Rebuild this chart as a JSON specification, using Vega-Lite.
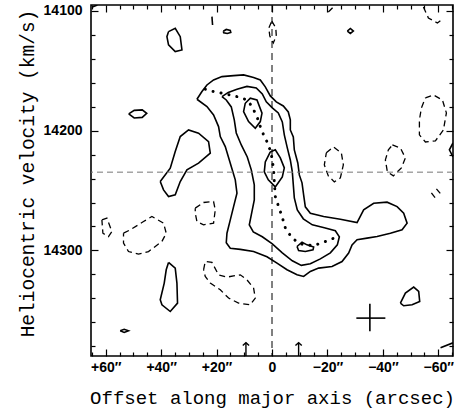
{
  "$schema": "https://vega.github.io/schema/vega-lite/v6.json",
  "width": 362,
  "height": 351,
  "autosize": "none",
  "padding": {"left": 91, "top": 5, "right": 1, "bottom": 59},
  "background": "white",
  "config": {
    "view": {"stroke": "black", "strokeWidth": 1.6},
    "axis": {"domain": false, "grid": false, "tickColor": "black", "tickWidth": 1.2, "labelColor": "black", "titleColor": "black"}
  },
  "datasets": {
    "cont": [
      {"c":"A","o":1,"x":27.08,"v":14173.9,"t":"s"},{"c":"A","o":2,"x":25.27,"v":14167.5,"t":"s"},{"c":"A","o":3,"x":23.47,"v":14162.0,"t":"s"},{"c":"A","o":4,"x":21.08,"v":14157.8,"t":"s"},{"c":"A","o":5,"x":18.05,"v":14155.0,"t":"s"},{"c":"A","o":6,"x":13.86,"v":14154.2,"t":"s"},{"c":"A","o":7,"x":10.25,"v":14153.6,"t":"s"},{"c":"A","o":8,"x":6.64,"v":14155.7,"t":"s"},{"c":"A","o":9,"x":4.22,"v":14157.8,"t":"s"},{"c":"A","o":10,"x":2.42,"v":14163.6,"t":"s"},{"c":"A","o":11,"x":0.61,"v":14171.1,"t":"s"},{"c":"A","o":12,"x":-1.55,"v":14176.1,"t":"s"},{"c":"A","o":13,"x":-4.08,"v":14179.5,"t":"s"},{"c":"A","o":14,"x":-5.88,"v":14184.5,"t":"s"},{"c":"A","o":15,"x":-6.61,"v":14191.1,"t":"s"},{"c":"A","o":16,"x":-6.61,"v":14199.5,"t":"s"},{"c":"A","o":17,"x":-7.69,"v":14205.3,"t":"s"},{"c":"A","o":18,"x":-8.05,"v":14216.1,"t":"s"},{"c":"A","o":19,"x":-9.31,"v":14227.0,"t":"s"},{"c":"A","o":20,"x":-9.86,"v":14237.0,"t":"s"},{"c":"A","o":21,"x":-10.83,"v":14243.6,"t":"s"},{"c":"A","o":22,"x":-11.41,"v":14253.6,"t":"s"},{"c":"A","o":23,"x":-12.02,"v":14263.6,"t":"s"},{"c":"A","o":24,"x":-13.83,"v":14268.9,"t":"s"},{"c":"A","o":25,"x":-18.63,"v":14271.7,"t":"s"},{"c":"A","o":26,"x":-24.66,"v":14273.9,"t":"s"},{"c":"A","o":27,"x":-30.69,"v":14276.7,"t":"s"},{"c":"A","o":28,"x":-33.07,"v":14266.1,"t":"s"},{"c":"A","o":29,"x":-36.68,"v":14260.6,"t":"s"},{"c":"A","o":30,"x":-41.52,"v":14259.7,"t":"s"},{"c":"A","o":31,"x":-45.13,"v":14263.4,"t":"s"},{"c":"A","o":32,"x":-47.51,"v":14268.9,"t":"s"},{"c":"A","o":33,"x":-48.74,"v":14277.2,"t":"s"},{"c":"A","o":34,"x":-46.93,"v":14282.8,"t":"s"},{"c":"A","o":35,"x":-42.71,"v":14285.6,"t":"s"},{"c":"A","o":36,"x":-37.91,"v":14288.4,"t":"s"},{"c":"A","o":37,"x":-34.30,"v":14289.7,"t":"s"},{"c":"A","o":38,"x":-30.69,"v":14291.1,"t":"s"},{"c":"A","o":39,"x":-28.88,"v":14295.3,"t":"s"},{"c":"A","o":40,"x":-27.65,"v":14302.2,"t":"s"},{"c":"A","o":41,"x":-25.27,"v":14309.2,"t":"s"},{"c":"A","o":42,"x":-21.66,"v":14313.4,"t":"s"},{"c":"A","o":43,"x":-16.82,"v":14314.7,"t":"s"},{"c":"A","o":44,"x":-13.83,"v":14317.5,"t":"s"},{"c":"A","o":45,"x":-11.41,"v":14321.7,"t":"s"},{"c":"A","o":46,"x":-9.03,"v":14320.3,"t":"s"},{"c":"A","o":47,"x":-5.42,"v":14316.1,"t":"s"},{"c":"A","o":48,"x":-1.81,"v":14310.6,"t":"s"},{"c":"A","o":49,"x":1.81,"v":14305.3,"t":"s"},{"c":"A","o":50,"x":6.64,"v":14300.9,"t":"s"},{"c":"A","o":51,"x":11.44,"v":14299.1,"t":"s"},{"c":"A","o":52,"x":15.05,"v":14298.1,"t":"s"},{"c":"A","o":53,"x":16.50,"v":14293.6,"t":"s"},{"c":"A","o":54,"x":16.25,"v":14285.6,"t":"s"},{"c":"A","o":55,"x":15.05,"v":14274.5,"t":"s"},{"c":"A","o":56,"x":13.86,"v":14263.4,"t":"s"},{"c":"A","o":57,"x":12.64,"v":14252.2,"t":"s"},{"c":"A","o":58,"x":13.25,"v":14241.1,"t":"s"},{"c":"A","o":59,"x":15.05,"v":14227.2,"t":"s"},{"c":"A","o":60,"x":16.86,"v":14213.4,"t":"s"},{"c":"A","o":61,"x":18.66,"v":14205.0,"t":"s"},{"c":"A","o":62,"x":19.28,"v":14196.7,"t":"s"},{"c":"A","o":63,"x":21.08,"v":14187.0,"t":"s"},{"c":"A","o":64,"x":23.47,"v":14180.0,"t":"s"},{"c":"A","o":65,"x":27.08,"v":14173.9,"t":"s"},

      {"c":"B","o":1,"x":18.05,"v":14171.7,"t":"s"},{"c":"B","o":2,"x":15.78,"v":14168.2,"t":"s"},{"c":"B","o":3,"x":12.64,"v":14165.5,"t":"s"},{"c":"B","o":4,"x":9.03,"v":14163.2,"t":"s"},{"c":"B","o":5,"x":5.67,"v":14164.5,"t":"s"},{"c":"B","o":6,"x":3.50,"v":14169.5,"t":"s"},{"c":"B","o":7,"x":2.06,"v":14176.1,"t":"s"},{"c":"B","o":8,"x":-0.11,"v":14181.1,"t":"s"},{"c":"B","o":9,"x":-2.27,"v":14185.3,"t":"s"},{"c":"B","o":10,"x":-3.72,"v":14192.8,"t":"s"},{"c":"B","o":11,"x":-4.44,"v":14203.6,"t":"s"},{"c":"B","o":12,"x":-5.52,"v":14214.5,"t":"s"},{"c":"B","o":13,"x":-6.61,"v":14224.5,"t":"s"},{"c":"B","o":14,"x":-7.33,"v":14234.5,"t":"s"},{"c":"B","o":15,"x":-7.69,"v":14245.3,"t":"s"},{"c":"B","o":16,"x":-8.05,"v":14256.1,"t":"s"},{"c":"B","o":17,"x":-9.13,"v":14266.1,"t":"s"},{"c":"B","o":18,"x":-11.30,"v":14273.6,"t":"s"},{"c":"B","o":19,"x":-14.55,"v":14278.6,"t":"s"},{"c":"B","o":20,"x":-18.88,"v":14281.1,"t":"s"},{"c":"B","o":21,"x":-22.85,"v":14283.6,"t":"s"},{"c":"B","o":22,"x":-24.30,"v":14288.6,"t":"s"},{"c":"B","o":23,"x":-23.57,"v":14295.3,"t":"s"},{"c":"B","o":24,"x":-21.05,"v":14302.0,"t":"s"},{"c":"B","o":25,"x":-17.44,"v":14307.0,"t":"s"},{"c":"B","o":26,"x":-13.83,"v":14311.1,"t":"s"},{"c":"B","o":27,"x":-10.58,"v":14312.4,"t":"s"},{"c":"B","o":28,"x":-7.33,"v":14308.6,"t":"s"},{"c":"B","o":29,"x":-3.72,"v":14302.0,"t":"s"},{"c":"B","o":30,"x":-0.11,"v":14294.5,"t":"s"},{"c":"B","o":31,"x":3.50,"v":14288.6,"t":"s"},{"c":"B","o":32,"x":6.75,"v":14284.5,"t":"s"},{"c":"B","o":33,"x":8.19,"v":14278.6,"t":"s"},{"c":"B","o":34,"x":7.47,"v":14270.3,"t":"s"},{"c":"B","o":35,"x":6.39,"v":14257.8,"t":"s"},{"c":"B","o":36,"x":6.39,"v":14245.3,"t":"s"},{"c":"B","o":37,"x":7.47,"v":14232.8,"t":"s"},{"c":"B","o":38,"x":8.92,"v":14222.0,"t":"s"},{"c":"B","o":39,"x":11.08,"v":14212.0,"t":"s"},{"c":"B","o":40,"x":12.89,"v":14202.0,"t":"s"},{"c":"B","o":41,"x":13.61,"v":14191.1,"t":"s"},{"c":"B","o":42,"x":14.69,"v":14180.3,"t":"s"},{"c":"B","o":43,"x":16.50,"v":14174.5,"t":"s"},{"c":"B","o":44,"x":18.05,"v":14171.7,"t":"s"},

      {"c":"C1","o":1,"x":9.64,"v":14177.2,"t":"s"},{"c":"C1","o":2,"x":7.83,"v":14173.0,"t":"s"},{"c":"C1","o":3,"x":5.42,"v":14174.5,"t":"s"},{"c":"C1","o":4,"x":3.61,"v":14185.5,"t":"s"},{"c":"C1","o":5,"x":4.22,"v":14192.5,"t":"s"},{"c":"C1","o":6,"x":6.03,"v":14198.1,"t":"s"},{"c":"C1","o":7,"x":8.45,"v":14192.5,"t":"s"},{"c":"C1","o":8,"x":10.25,"v":14184.2,"t":"s"},{"c":"C1","o":9,"x":9.64,"v":14177.2,"t":"s"},

      {"c":"C2","o":1,"x":0.61,"v":14217.8,"t":"s"},{"c":"C2","o":2,"x":-1.19,"v":14216.1,"t":"s"},{"c":"C2","o":3,"x":-3.00,"v":14222.8,"t":"s"},{"c":"C2","o":4,"x":-4.44,"v":14231.1,"t":"s"},{"c":"C2","o":5,"x":-3.72,"v":14238.6,"t":"s"},{"c":"C2","o":6,"x":-1.19,"v":14247.0,"t":"s"},{"c":"C2","o":7,"x":1.34,"v":14241.1,"t":"s"},{"c":"C2","o":8,"x":2.78,"v":14234.5,"t":"s"},{"c":"C2","o":9,"x":2.42,"v":14226.1,"t":"s"},{"c":"C2","o":10,"x":0.61,"v":14217.8,"t":"s"},

      {"c":"C3","o":1,"x":-9.03,"v":14296.7,"t":"s"},{"c":"C3","o":2,"x":-10.83,"v":14293.1,"t":"s"},{"c":"C3","o":3,"x":-12.64,"v":14295.3,"t":"s"},{"c":"C3","o":4,"x":-15.02,"v":14297.2,"t":"s"},{"c":"C3","o":5,"x":-14.80,"v":14299.5,"t":"s"},{"c":"C3","o":6,"x":-12.02,"v":14300.9,"t":"s"},{"c":"C3","o":7,"x":-9.60,"v":14300.1,"t":"s"},{"c":"C3","o":8,"x":-9.03,"v":14296.7,"t":"s"},

      {"c":"S1","o":1,"x":37.33,"v":14117.5,"t":"s"},{"c":"S1","o":2,"x":34.91,"v":14114.7,"t":"s"},{"c":"S1","o":3,"x":33.10,"v":14121.7,"t":"s"},{"c":"S1","o":4,"x":32.49,"v":14132.8,"t":"s"},{"c":"S1","o":5,"x":34.91,"v":14134.2,"t":"s"},{"c":"S1","o":6,"x":37.33,"v":14128.6,"t":"s"},{"c":"S1","o":7,"x":37.91,"v":14121.7,"t":"s"},{"c":"S1","o":8,"x":37.33,"v":14117.5,"t":"s"},

      {"c":"S2","o":1,"x":17.58,"v":14117.2,"t":"s"},{"c":"S2","o":2,"x":16.50,"v":14115.7,"t":"s"},{"c":"S2","o":3,"x":15.05,"v":14116.5,"t":"s"},{"c":"S2","o":4,"x":14.87,"v":14118.2,"t":"s"},{"c":"S2","o":5,"x":16.14,"v":14119.0,"t":"s"},{"c":"S2","o":6,"x":17.40,"v":14118.5,"t":"s"},{"c":"S2","o":7,"x":17.58,"v":14117.2,"t":"s"},

      {"c":"S3","o":1,"x":21.66,"v":14105.0,"t":"s"},{"c":"S3","o":2,"x":21.55,"v":14108.6,"t":"s"},{"c":"S3","o":3,"x":21.44,"v":14112.0,"t":"s"},

      {"c":"S4","o":1,"x":-27.18,"v":14117.0,"t":"s"},{"c":"S4","o":2,"x":-28.27,"v":14114.9,"t":"s"},{"c":"S4","o":3,"x":-29.35,"v":14117.0,"t":"s"},{"c":"S4","o":4,"x":-28.27,"v":14119.05,"t":"s"},{"c":"S4","o":5,"x":-27.18,"v":14117.0,"t":"s"},

      {"c":"S5","o":1,"x":51.70,"v":14186.1,"t":"s"},{"c":"S5","o":2,"x":49.71,"v":14183.2,"t":"s"},{"c":"S5","o":3,"x":46.82,"v":14182.8,"t":"s"},{"c":"S5","o":4,"x":45.20,"v":14185.7,"t":"s"},{"c":"S5","o":5,"x":46.82,"v":14189.0,"t":"s"},{"c":"S5","o":6,"x":49.71,"v":14189.5,"t":"s"},{"c":"S5","o":7,"x":51.70,"v":14186.1,"t":"s"},

      {"c":"S6","o":1,"x":40.32,"v":14242.5,"t":"s"},{"c":"S6","o":2,"x":36.71,"v":14231.4,"t":"s"},{"c":"S6","o":3,"x":34.91,"v":14217.5,"t":"s"},{"c":"S6","o":4,"x":33.10,"v":14205.0,"t":"s"},{"c":"S6","o":5,"x":30.11,"v":14199.5,"t":"s"},{"c":"S6","o":6,"x":26.50,"v":14202.2,"t":"s"},{"c":"S6","o":7,"x":22.89,"v":14209.2,"t":"s"},{"c":"S6","o":8,"x":22.27,"v":14218.9,"t":"s"},{"c":"S6","o":9,"x":26.50,"v":14227.2,"t":"s"},{"c":"S6","o":10,"x":30.69,"v":14232.8,"t":"s"},{"c":"S6","o":11,"x":33.10,"v":14242.5,"t":"s"},{"c":"S6","o":12,"x":34.91,"v":14253.6,"t":"s"},{"c":"S6","o":13,"x":37.33,"v":14255.0,"t":"s"},{"c":"S6","o":14,"x":39.13,"v":14249.5,"t":"s"},{"c":"S6","o":15,"x":40.32,"v":14242.5,"t":"s"},

      {"c":"S7","o":1,"x":37.33,"v":14310.0,"t":"s"},{"c":"S7","o":2,"x":34.91,"v":14314.7,"t":"s"},{"c":"S7","o":3,"x":34.30,"v":14327.2,"t":"s"},{"c":"S7","o":4,"x":34.08,"v":14343.9,"t":"s"},{"c":"S7","o":5,"x":36.71,"v":14350.9,"t":"s"},{"c":"S7","o":6,"x":39.71,"v":14345.3,"t":"s"},{"c":"S7","o":7,"x":40.32,"v":14341.1,"t":"s"},{"c":"S7","o":8,"x":38.88,"v":14327.2,"t":"s"},{"c":"S7","o":9,"x":38.16,"v":14316.1,"t":"s"},{"c":"S7","o":10,"x":37.33,"v":14310.0,"t":"s"},

      {"c":"S8","o":1,"x":54.77,"v":14367.0,"t":"s"},{"c":"S8","o":2,"x":53.32,"v":14365.7,"t":"s"},{"c":"S8","o":3,"x":51.77,"v":14367.0,"t":"s"},{"c":"S8","o":4,"x":53.32,"v":14368.4,"t":"s"},{"c":"S8","o":5,"x":54.77,"v":14367.0,"t":"s"},

      {"c":"S9","o":1,"x":-46.32,"v":14343.9,"t":"s"},{"c":"S9","o":2,"x":-48.12,"v":14335.5,"t":"s"},{"c":"S9","o":3,"x":-51.12,"v":14330.5,"t":"s"},{"c":"S9","o":4,"x":-52.92,"v":14334.2,"t":"s"},{"c":"S9","o":5,"x":-53.29,"v":14342.5,"t":"s"},{"c":"S9","o":6,"x":-50.54,"v":14345.3,"t":"s"},{"c":"S9","o":7,"x":-47.51,"v":14346.1,"t":"s"},{"c":"S9","o":8,"x":-46.32,"v":14343.9,"t":"s"},

      {"c":"S11","o":1,"x":-65.3,"v":14210.3,"t":"s"},{"c":"S11","o":2,"x":-64.0,"v":14216.1,"t":"s"},{"c":"S11","o":3,"x":-65.3,"v":14222.0,"t":"s"},
      {"c":"S12","o":1,"x":-60.8,"v":14381.1,"t":"s"},{"c":"S12","o":2,"x":-65.3,"v":14377.0,"t":"s"},
      {"c":"S13","o":1,"x":64.8,"v":14097.0,"t":"s"},{"c":"S13","o":2,"x":63.0,"v":14095.3,"t":"s"},

      {"c":"D1","o":1,"x":0.07,"v":14108.6,"t":"d"},{"c":"D1","o":2,"x":-1.37,"v":14114.5,"t":"d"},{"c":"D1","o":3,"x":-1.55,"v":14121.1,"t":"d"},{"c":"D1","o":4,"x":-0.47,"v":14127.0,"t":"d"},{"c":"D1","o":5,"x":0.79,"v":14121.1,"t":"d"},{"c":"D1","o":6,"x":1.16,"v":14114.5,"t":"d"},{"c":"D1","o":7,"x":0.07,"v":14108.6,"t":"d"},

      {"c":"D2","o":1,"x":-20.32,"v":14101.1,"t":"d"},{"c":"D2","o":2,"x":-22.13,"v":14097.0,"t":"d"},

      {"c":"D3","o":1,"x":-55.34,"v":14172.8,"t":"d"},{"c":"D3","o":2,"x":-58.23,"v":14170.3,"t":"d"},{"c":"D3","o":3,"x":-61.48,"v":14174.5,"t":"d"},{"c":"D3","o":4,"x":-62.92,"v":14185.3,"t":"d"},{"c":"D3","o":5,"x":-61.84,"v":14199.5,"t":"d"},{"c":"D3","o":6,"x":-58.95,"v":14208.6,"t":"d"},{"c":"D3","o":7,"x":-55.34,"v":14209.5,"t":"d"},{"c":"D3","o":8,"x":-53.18,"v":14203.6,"t":"d"},{"c":"D3","o":9,"x":-53.18,"v":14191.1,"t":"d"},{"c":"D3","o":10,"x":-53.90,"v":14181.1,"t":"d"},{"c":"D3","o":11,"x":-55.34,"v":14172.8,"t":"d"},

      {"c":"D4","o":1,"x":-43.43,"v":14212.0,"t":"d"},{"c":"D4","o":2,"x":-46.32,"v":14214.5,"t":"d"},{"c":"D4","o":3,"x":-48.12,"v":14222.8,"t":"d"},{"c":"D4","o":4,"x":-46.68,"v":14231.1,"t":"d"},{"c":"D4","o":5,"x":-43.79,"v":14237.8,"t":"d"},{"c":"D4","o":6,"x":-41.62,"v":14234.5,"t":"d"},{"c":"D4","o":7,"x":-40.90,"v":14224.5,"t":"d"},{"c":"D4","o":8,"x":-41.99,"v":14216.1,"t":"d"},{"c":"D4","o":9,"x":-43.43,"v":14212.0,"t":"d"},

      {"c":"D5","o":1,"x":-19.60,"v":14218.6,"t":"d"},{"c":"D5","o":2,"x":-22.13,"v":14213.6,"t":"d"},{"c":"D5","o":3,"x":-25.02,"v":14218.6,"t":"d"},{"c":"D5","o":4,"x":-25.74,"v":14228.6,"t":"d"},{"c":"D5","o":5,"x":-24.66,"v":14239.5,"t":"d"},{"c":"D5","o":6,"x":-22.49,"v":14242.8,"t":"d"},{"c":"D5","o":7,"x":-20.32,"v":14237.8,"t":"d"},{"c":"D5","o":8,"x":-18.88,"v":14228.6,"t":"d"},{"c":"D5","o":9,"x":-19.60,"v":14218.6,"t":"d"},

      {"c":"D6a","o":1,"x":-57.51,"v":14252.0,"t":"d"},{"c":"D6a","o":2,"x":-59.67,"v":14258.6,"t":"d"},
      {"c":"D6b","o":1,"x":-59.31,"v":14248.6,"t":"d"},{"c":"D6b","o":2,"x":-61.48,"v":14254.5,"t":"d"},

      {"c":"D7","o":1,"x":27.69,"v":14264.7,"t":"d"},{"c":"D7","o":2,"x":24.69,"v":14260.0,"t":"d"},{"c":"D7","o":3,"x":21.08,"v":14259.2,"t":"d"},{"c":"D7","o":4,"x":20.47,"v":14266.1,"t":"d"},{"c":"D7","o":5,"x":21.08,"v":14277.2,"t":"d"},{"c":"D7","o":6,"x":24.69,"v":14278.6,"t":"d"},{"c":"D7","o":7,"x":27.08,"v":14275.9,"t":"d"},{"c":"D7","o":8,"x":27.69,"v":14268.9,"t":"d"},{"c":"D7","o":9,"x":27.69,"v":14264.7,"t":"d"},

      {"c":"D8","o":1,"x":53.57,"v":14285.6,"t":"d"},{"c":"D8","o":2,"x":51.16,"v":14282.8,"t":"d"},{"c":"D8","o":3,"x":46.35,"v":14275.9,"t":"d"},{"c":"D8","o":4,"x":43.32,"v":14271.7,"t":"d"},{"c":"D8","o":5,"x":39.13,"v":14277.2,"t":"d"},{"c":"D8","o":6,"x":38.16,"v":14285.6,"t":"d"},{"c":"D8","o":7,"x":39.71,"v":14292.5,"t":"d"},{"c":"D8","o":8,"x":44.55,"v":14300.9,"t":"d"},{"c":"D8","o":9,"x":48.16,"v":14303.0,"t":"d"},{"c":"D8","o":10,"x":51.77,"v":14300.9,"t":"d"},{"c":"D8","o":11,"x":53.57,"v":14293.9,"t":"d"},{"c":"D8","o":12,"x":53.57,"v":14285.6,"t":"d"},

      {"c":"D9","o":1,"x":61.37,"v":14274.5,"t":"d"},{"c":"D9","o":2,"x":59.57,"v":14273.05,"t":"d"},{"c":"D9","o":3,"x":57.76,"v":14284.2,"t":"d"},{"c":"D9","o":4,"x":58.99,"v":14288.4,"t":"d"},{"c":"D9","o":5,"x":61.01,"v":14285.6,"t":"d"},{"c":"D9","o":6,"x":61.37,"v":14274.5,"t":"d"},

      {"c":"D10","o":1,"x":24.69,"v":14316.1,"t":"d"},{"c":"D10","o":2,"x":24.08,"v":14309.2,"t":"d"},{"c":"D10","o":3,"x":21.66,"v":14310.0,"t":"d"},{"c":"D10","o":4,"x":19.28,"v":14320.3,"t":"d"},{"c":"D10","o":5,"x":16.25,"v":14322.2,"t":"d"},{"c":"D10","o":6,"x":11.44,"v":14320.3,"t":"d"},{"c":"D10","o":7,"x":9.03,"v":14324.5,"t":"d"},{"c":"D10","o":8,"x":6.64,"v":14331.4,"t":"d"},{"c":"D10","o":9,"x":6.03,"v":14339.7,"t":"d"},{"c":"D10","o":10,"x":7.83,"v":14345.3,"t":"d"},{"c":"D10","o":11,"x":12.06,"v":14343.9,"t":"d"},{"c":"D10","o":12,"x":15.67,"v":14339.7,"t":"d"},{"c":"D10","o":13,"x":18.66,"v":14332.8,"t":"d"},{"c":"D10","o":14,"x":22.27,"v":14327.2,"t":"d"},{"c":"D10","o":15,"x":24.08,"v":14321.7,"t":"d"},{"c":"D10","o":16,"x":24.69,"v":14316.1,"t":"d"},

      {"c":"D11","o":1,"x":-54.62,"v":14097.0,"t":"d"},{"c":"D11","o":2,"x":-56.43,"v":14106.1,"t":"d"},{"c":"D11","o":3,"x":-59.68,"v":14110.3,"t":"d"},{"c":"D11","o":4,"x":-61.12,"v":14107.8,"t":"d"},

      {"c":"P","o":1,"x":24.08,"v":14165.5,"t":"p"},{"c":"P","o":2,"x":21.08,"v":14167.5,"t":"p"},{"c":"P","o":3,"x":16.25,"v":14169.7,"t":"p"},{"c":"P","o":4,"x":12.64,"v":14171.7,"t":"p"},{"c":"P","o":5,"x":8.92,"v":14174.5,"t":"p"},{"c":"P","o":6,"x":7.22,"v":14180.0,"t":"p"},{"c":"P","o":7,"x":5.42,"v":14188.4,"t":"p"},{"c":"P","o":8,"x":4.22,"v":14196.7,"t":"p"},{"c":"P","o":9,"x":3.03,"v":14203.6,"t":"p"},{"c":"P","o":10,"x":1.23,"v":14212.0,"t":"p"},{"c":"P","o":11,"x":0.0,"v":14222.8,"t":"p"},{"c":"P","o":12,"x":-0.58,"v":14232.8,"t":"p"},{"c":"P","o":13,"x":-0.83,"v":14242.8,"t":"p"},{"c":"P","o":14,"x":-1.19,"v":14255.0,"t":"p"},{"c":"P","o":15,"x":-2.38,"v":14263.4,"t":"p"},{"c":"P","o":16,"x":-3.61,"v":14271.7,"t":"p"},{"c":"P","o":17,"x":-4.80,"v":14281.1,"t":"p"},{"c":"P","o":18,"x":-7.22,"v":14289.7,"t":"p"},{"c":"P","o":19,"x":-10.22,"v":14294.5,"t":"p"},{"c":"P","o":20,"x":-15.02,"v":14296.1,"t":"p"},{"c":"P","o":21,"x":-18.05,"v":14293.4,"t":"p"},{"c":"P","o":22,"x":-20.43,"v":14291.7,"t":"p"},{"c":"P","o":23,"x":-23.47,"v":14288.4,"t":"p"}
    ],
    "arrows": [{"x": 9.4, "v1": 14376.9, "v2": 14388}, {"x": -9.6, "v1": 14376.9, "v2": 14388}],
    "cross": [{"x": -35.31, "x1": -30.43, "x2": -40.9, "v": 14356.4, "v1": 14344.5, "v2": 14367.4}]
  },
  "resolve": {"axis": {"x": "independent", "y": "independent"}},
  "layer": [
    {
      "data": {"name": "cont"},
      "transform": [{"filter": "datum.t === 's'"}],
      "mark": {"type": "line", "color": "black", "strokeWidth": 1.6, "clip": true, "interpolate": "linear"},
      "encoding": {
        "x": {"field": "x", "type": "quantitative", "scale": {"domain": [-65.3, 65.3], "reverse": true, "nice": false, "zero": false},
          "axis": {"orient": "bottom", "values": [-65,-60,-55,-50,-45,-40,-35,-30,-25,-20,-15,-10,-5,0,5,10,15,20,25,30,35,40,45,50,55,60,65],
            "tickSize": {"condition": {"test": "datum.value % 20 === 0", "value": -7}, "value": -4},
            "labelExpr": "datum.value % 20 === 0 ? (datum.value === 0 ? '0' : (datum.value > 0 ? '+' + datum.value : '\u2212' + (-datum.value)) + '\u2033') : ''",
            "labelPadding": 11, "labelFont": "Liberation Sans", "labelFontWeight": "bold", "labelFontSize": 14, "labelFlush": false,
            "title": "Offset along major axis (arcsec)", "titleFont": "Liberation Mono", "titleFontSize": 19, "titleFontWeight": "normal",
            "titleY": 41, "titleBaseline": "middle"}},
        "y": {"field": "v", "type": "quantitative", "scale": {"domain": [14095.3, 14388], "reverse": true, "nice": false, "zero": false},
          "axis": {"orient": "left", "values": [14100,14120,14140,14160,14180,14200,14220,14240,14260,14280,14300,14320,14340,14360,14380],
            "tickSize": {"condition": {"test": "datum.value % 100 === 0", "value": -7}, "value": -4},
            "labelExpr": "datum.value % 100 === 0 ? '' + datum.value : ''",
            "labelPadding": 16, "labelFont": "Liberation Sans", "labelFontWeight": "bold", "labelFontSize": 14, "labelFlush": false,
            "title": "Heliocentric velocity (km/s)", "titleFont": "Liberation Mono", "titleFontSize": 19.5, "titleFontWeight": "normal",
            "titleX": -64, "titleY": 168, "titleAlign": "center", "titleBaseline": "middle", "titleAngle": -90}},
        "detail": {"field": "c"},
        "order": {"field": "o", "type": "quantitative"}
      }
    },
    {
      "data": {"name": "cont"},
      "transform": [{"filter": "datum.t === 'd'"}],
      "mark": {"type": "line", "color": "black", "strokeWidth": 1.3, "strokeDash": [6, 4], "clip": true},
      "encoding": {
        "x": {"field": "x", "type": "quantitative", "scale": {"domain": [-65.3, 65.3], "reverse": true, "nice": false, "zero": false},
          "axis": {"orient": "top", "values": [-65,-60,-55,-50,-45,-40,-35,-30,-25,-20,-15,-10,-5,0,5,10,15,20,25,30,35,40,45,50,55,60,65],
            "tickSize": {"condition": {"test": "datum.value % 20 === 0", "value": -7}, "value": -4}, "labels": false, "title": null}},
        "y": {"field": "v", "type": "quantitative", "scale": {"domain": [14095.3, 14388], "reverse": true, "nice": false, "zero": false},
          "axis": {"orient": "right", "values": [14100,14120,14140,14160,14180,14200,14220,14240,14260,14280,14300,14320,14340,14360,14380],
            "tickSize": {"condition": {"test": "datum.value % 100 === 0", "value": -7}, "value": -4}, "labels": false, "title": null}},
        "detail": {"field": "c"},
        "order": {"field": "o", "type": "quantitative"}
      }
    },
    {
      "data": {"name": "cont"},
      "transform": [{"filter": "datum.t === 'p'"}],
      "mark": {"type": "line", "color": "black", "strokeWidth": 3, "strokeDash": [0.1, 8], "strokeCap": "round", "clip": true},
      "encoding": {
        "x": {"field": "x", "type": "quantitative", "scale": {"domain": [-65.3, 65.3], "reverse": true, "nice": false, "zero": false}, "axis": null},
        "y": {"field": "v", "type": "quantitative", "scale": {"domain": [14095.3, 14388], "reverse": true, "nice": false, "zero": false}, "axis": null},
        "detail": {"field": "c"},
        "order": {"field": "o", "type": "quantitative"}
      }
    },
    {
      "data": {"values": [{"x": 0}]},
      "mark": {"type": "rule", "color": "black", "strokeWidth": 1, "strokeDash": [7, 5]},
      "encoding": {
        "x": {"field": "x", "type": "quantitative", "scale": {"domain": [-65.3, 65.3], "reverse": true, "nice": false, "zero": false}, "axis": null}
      }
    },
    {
      "data": {"values": [{"v": 14234.7}]},
      "mark": {"type": "rule", "color": "#777777", "strokeWidth": 1, "strokeDash": [6, 4]},
      "encoding": {
        "y": {"field": "v", "type": "quantitative", "scale": {"domain": [14095.3, 14388], "reverse": true, "nice": false, "zero": false}, "axis": null}
      }
    },
    {
      "data": {"name": "cross"},
      "mark": {"type": "rule", "color": "black", "strokeWidth": 1.6},
      "encoding": {
        "x": {"field": "x1", "type": "quantitative", "scale": {"domain": [-65.3, 65.3], "reverse": true, "nice": false, "zero": false}, "axis": null},
        "x2": {"field": "x2"},
        "y": {"field": "v", "type": "quantitative", "scale": {"domain": [14095.3, 14388], "reverse": true, "nice": false, "zero": false}, "axis": null}
      }
    },
    {
      "data": {"name": "cross"},
      "mark": {"type": "rule", "color": "black", "strokeWidth": 1.6},
      "encoding": {
        "x": {"field": "x", "type": "quantitative", "scale": {"domain": [-65.3, 65.3], "reverse": true, "nice": false, "zero": false}, "axis": null},
        "y": {"field": "v1", "type": "quantitative", "scale": {"domain": [14095.3, 14388], "reverse": true, "nice": false, "zero": false}, "axis": null},
        "y2": {"field": "v2"}
      }
    },
    {
      "data": {"name": "arrows"},
      "mark": {"type": "rule", "color": "black", "strokeWidth": 1.4},
      "encoding": {
        "x": {"field": "x", "type": "quantitative", "scale": {"domain": [-65.3, 65.3], "reverse": true, "nice": false, "zero": false}, "axis": null},
        "y": {"field": "v1", "type": "quantitative", "scale": {"domain": [14095.3, 14388], "reverse": true, "nice": false, "zero": false}, "axis": null},
        "y2": {"field": "v2"}
      }
    },
    {
      "data": {"name": "arrows"},
      "mark": {"type": "point", "shape": "M-1,0.9L0,0L1,0.9", "filled": false, "color": "black", "strokeWidth": 1.4, "size": 40, "opacity": 1},
      "encoding": {
        "x": {"field": "x", "type": "quantitative", "scale": {"domain": [-65.3, 65.3], "reverse": true, "nice": false, "zero": false}, "axis": null},
        "y": {"field": "v1", "type": "quantitative", "scale": {"domain": [14095.3, 14388], "reverse": true, "nice": false, "zero": false}, "axis": null}
      }
    }
  ]
}
